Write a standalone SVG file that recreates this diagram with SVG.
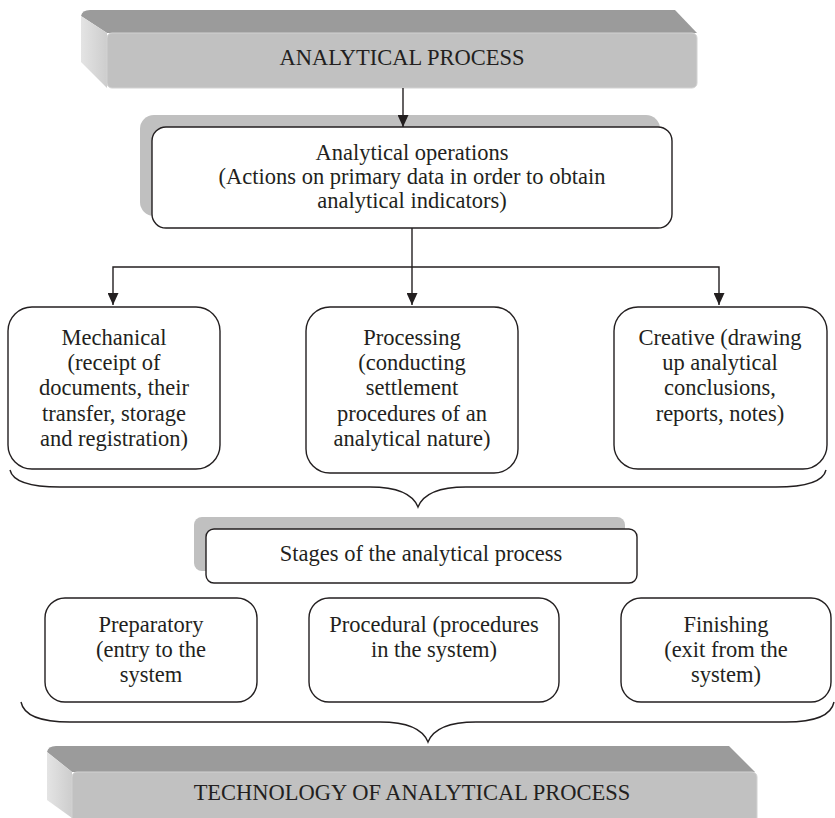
<svg xmlns="http://www.w3.org/2000/svg" width="835" height="818" viewBox="0 0 835 818">
  <defs>
    <marker id="arrow" markerUnits="userSpaceOnUse" markerWidth="12" markerHeight="11" viewBox="0 0 12 11" refX="12" refY="5.5" orient="auto">
      <path d="M0,0 L12,5.5 L0,11 Z" fill="#231f20"/>
    </marker>
    <linearGradient id="sideFace" x1="0" y1="0" x2="1" y2="0">
      <stop offset="0" stop-color="#e4e4e4"/>
      <stop offset="1" stop-color="#cdcdcd"/>
    </linearGradient>
    <style>
      text { font-family: "Liberation Serif", "Times New Roman", serif; font-size: 22.5px; fill: #231f20; text-anchor: middle; }
      .box { fill: #ffffff; stroke: #231f20; stroke-width: 1.4; }
      .shadow { fill: #c0c0c0; }
      .front { fill: #c1c1c1; stroke: #d2d2d2; stroke-width: 1; }
      .top { fill: #9b9b9b; }
      .side { fill: url(#sideFace); }
      .link { fill: none; stroke: #231f20; stroke-width: 1.4; }
      .brace { fill: none; stroke: #231f20; stroke-width: 1.4; }
    </style>
  </defs>

  <!-- top banner -->
  <g id="analytical-process">
    <path class="top" d="M90,10 L675,10 L697,33 L107,33 L81,16 Q82,10 90,10 Z"/>
    <path class="side" d="M81,16 L107,33 L107,88 L81,62 Z"/>
    <rect class="front" x="107" y="33" width="590" height="55" rx="5"/>
    <text x="402" y="65">ANALYTICAL PROCESS</text>
  </g>

  <!-- analytical operations -->
  <g id="operations">
    <rect class="shadow" x="140" y="115" width="520" height="101" rx="14"/>
    <rect class="box" x="152" y="127" width="520" height="101" rx="14"/>
    <text x="412" y="160">Analytical operations</text>
    <text x="412" y="184">(Actions on primary data in order to obtain</text>
    <text x="412" y="208">analytical indicators)</text>
  </g>

  <!-- operation kinds -->
  <g id="mechanical">
    <rect class="box" x="8" y="307" width="212" height="162" rx="24"/>
    <text x="114" y="345">Mechanical</text>
    <text x="114" y="370">(receipt of</text>
    <text x="114" y="395">documents, their</text>
    <text x="114" y="421">transfer, storage</text>
    <text x="114" y="446">and registration)</text>
  </g>
  <g id="processing">
    <rect class="box" x="306" y="307" width="212" height="166" rx="24"/>
    <text x="412" y="345">Processing</text>
    <text x="412" y="370">(conducting</text>
    <text x="412" y="395">settlement</text>
    <text x="412" y="421">procedures of an</text>
    <text x="412" y="446">analytical nature)</text>
  </g>
  <g id="creative">
    <rect class="box" x="614" y="307" width="213" height="162" rx="24"/>
    <text x="720" y="345">Creative (drawing</text>
    <text x="720" y="370">up analytical</text>
    <text x="720" y="395">conclusions,</text>
    <text x="720" y="421">reports, notes)</text>
  </g>

  <!-- stages -->
  <g id="stages">
    <rect class="shadow" x="194" y="517" width="431" height="54" rx="8"/>
    <rect class="box" x="206" y="529" width="431" height="54" rx="8"/>
    <text x="421" y="561">Stages of the analytical process</text>
  </g>
  <g id="preparatory">
    <rect class="box" x="45" y="598" width="212" height="104" rx="20"/>
    <text x="151" y="632">Preparatory</text>
    <text x="151" y="657">(entry to the</text>
    <text x="151" y="682">system</text>
  </g>
  <g id="procedural">
    <rect class="box" x="309" y="598" width="250" height="104" rx="20"/>
    <text x="434" y="632">Procedural (procedures</text>
    <text x="434" y="657">in the system)</text>
  </g>
  <g id="finishing">
    <rect class="box" x="621" y="598" width="210" height="104" rx="20"/>
    <text x="726" y="632">Finishing</text>
    <text x="726" y="657">(exit from the</text>
    <text x="726" y="682">system)</text>
  </g>

  <!-- bottom banner -->
  <g id="technology">
    <path class="top" d="M56,746 L729,746 L755,772 L72,772 L47,752 Q48,746 56,746 Z"/>
    <path class="side" d="M47,752 L72,772 L72,818 L47,800 Z"/>
    <rect class="front" x="72" y="772" width="685" height="52" rx="5"/>
    <text x="412" y="800">TECHNOLOGY OF ANALYTICAL PROCESS</text>
  </g>

  <!-- connectors -->
  <g id="connectors">
    <path class="link" d="M403,88 L403,127" marker-end="url(#arrow)"/>
    <path class="link" d="M412,228 L412,305" marker-end="url(#arrow)"/>
    <path class="link" d="M412,267 L113,267 L113,305" marker-end="url(#arrow)"/>
    <path class="link" d="M412,267 L719,267 L719,305" marker-end="url(#arrow)"/>
    <path class="brace" d="M10,470 Q14,487 60,487 L370,487 Q410,487 418,507 Q426,487 466,487 L776,487 Q822,487 826,470"/>
    <path class="brace" d="M21,702 Q25,722 70,722 L380,722 Q420,722 428,742 Q436,722 476,722 L786,722 Q830,722 834,702"/>
  </g>
</svg>
